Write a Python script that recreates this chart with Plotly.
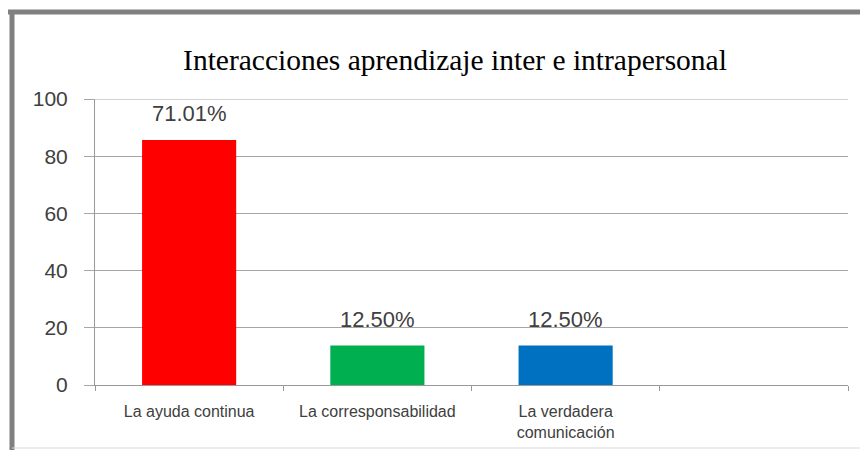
import plotly.graph_objects as go

categories = ['La ayuda continua', 'La corresponsabilidad', 'La verdadera<br>comunicación']
values = [85.7, 13.8, 13.8]
labels = ['71.01%', '12.50%', '12.50%']
colors = ['#ff0000', '#00b050', '#0070c0']
slots = categories + ['&nbsp;']

fig = go.Figure()
fig.add_trace(go.Bar(
    x=categories, y=values,
    marker_color=colors, marker_line_width=0,
    width=0.5, showlegend=False, hoverinfo='skip'
))

for c, v, t in zip(categories, values, labels):
    fig.add_annotation(x=c, y=v, text=t, showarrow=False, yanchor='bottom', yshift=12,
                       font=dict(family='Liberation Sans', size=22, color='#404040'))

# page has an 8px body margin; work in screen pixels and keep the figure inside the window
OFF = 8
FW, FH = 868 - 2 * OFF, 458 - 2 * OFF
L, R, T, B = 95, 848, 99, 385
W, H = R - L, B - T
def px(x): return (x - L) / W
def py(y): return (B - y) / H

fig.add_shape(type='line', xref='paper', yref='paper', x0=px(8), x1=px(880), y0=py(12), y1=py(12),
              line=dict(color='#808080', width=5))
fig.add_shape(type='line', xref='paper', yref='paper', x0=px(12), x1=px(12), y0=py(10), y1=py(470),
              line=dict(color='#808080', width=5))
fig.add_shape(type='line', xref='paper', yref='paper', x0=px(12), x1=px(880), y0=py(448), y1=py(448),
              line=dict(color='#d9d9d9', width=1))
# top gridline (plotly drops grid at the range edge)
fig.add_shape(type='line', xref='paper', yref='y', x0=px(85), x1=1, y0=100, y1=100,
              line=dict(color='#a6a6a6', width=1))

fig.update_layout(
    width=FW, height=FH,
    margin=dict(l=L - OFF, r=FW - (R - OFF), t=T - OFF, b=FH - (B - OFF)),
    paper_bgcolor='white', plot_bgcolor='white',
    title=dict(text='Interacciones aprendizaje inter e intrapersonal', xref='paper', x=px(455),
               xanchor='center', y=1 - (60 - OFF) / FH, yanchor='middle',
               font=dict(family='Liberation Serif', size=29.5, color='#000000')),
    bargap=0.5,
)
fig.update_xaxes(
    type='category', categoryorder='array', categoryarray=slots, range=[-0.5, 3.5],
    showline=True, linecolor='#999999', linewidth=1, automargin=False,
    ticks='outside', tickson='boundaries', ticklen=5, tickcolor='#999999',
    showgrid=False, ticklabelstandoff=12,
    tickfont=dict(family='Liberation Sans', size=16, color='#404040'),
)
fig.update_yaxes(
    range=[0, 100], dtick=20, automargin=False,
    showline=True, linecolor='#999999', linewidth=1,
    ticks='outside', ticklen=10, tickcolor='#a6a6a6',
    showgrid=True, gridcolor='#a6a6a6', gridwidth=1,
    ticklabelstandoff=12,
    tickfont=dict(family='Liberation Sans', size=21, color='#404040'),
    zeroline=False,
)
fig.write_html('out.html')
